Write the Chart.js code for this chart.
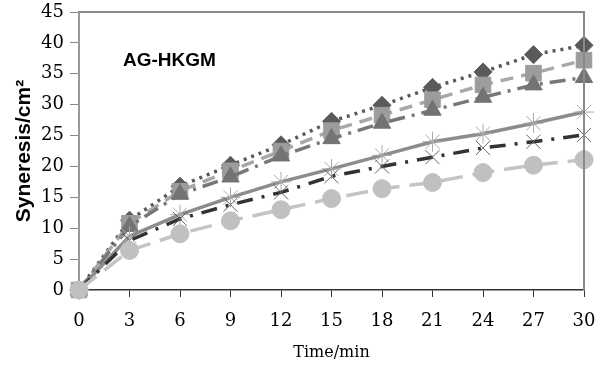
<!DOCTYPE html>
<html>
<head>
<meta charset="utf-8">
<script src="https://cdn.jsdelivr.net/npm/chart.js@4/dist/chart.umd.min.js"></script>
<style>
  html, body { margin: 0; padding: 0; background: #fff; }
  #wrap { width: 605px; height: 365px; }
</style>
</head>
<body>
<div id="wrap"><canvas id="chart"></canvas></div>
<script>
// data
const times = [0, 3, 6, 9, 12, 15, 18, 21, 24, 27, 30];
const diamondVals  = [0, 11.3, 16.8, 20.2, 23.5, 27.3, 29.9, 32.8, 35.3, 38.1, 39.6];
const squareVals   = [0, 10.8, 16.0, 19.3, 22.5, 25.8, 28.3, 30.8, 33.2, 35.1, 37.2];
const triangleVals = [0, 10.3, 15.5, 18.3, 21.7, 24.5, 27.0, 29.1, 31.2, 33.2, 34.4];
const starVals     = [0, 8.7, 12.2, 15.0, 17.5, 19.6, 21.8, 24.0, 25.3, 27.0, 28.8];
const crossVals    = [0, 8.0, 11.5, 13.8, 15.8, 18.4, 20.0, 21.5, 23.0, 24.0, 25.1];
const circleVals   = [0, 6.4, 9.1, 11.2, 13.0, 14.8, 16.4, 17.4, 19.0, 20.2, 21.1];
const yTicks = [0, 5, 10, 15, 20, 25, 30, 35, 40, 45];

const tickFont = { family: 'DejaVu Serif', size: 18 };

// top and right frame of the plot
const framePlugin = {
    id: 'frame',
    afterDraw(chart) {
        const { ctx, chartArea } = chart;
        ctx.save();
        ctx.strokeStyle = '#8a8a8a';
        ctx.lineWidth = 2;
        ctx.beginPath();
        ctx.moveTo(chartArea.left, chartArea.top);
        ctx.lineTo(chartArea.right, chartArea.top);
        ctx.lineTo(chartArea.right, chartArea.bottom);
        ctx.stroke();
        ctx.restore();
    }
};

// "AG-HKGM" label inside the plot
const labelPlugin = {
    id: 'sampleLabel',
    afterDraw(chart) {
        const { ctx, chartArea } = chart;
        ctx.save();
        ctx.fillStyle = '#000';
        ctx.font = 'bold 19px "Liberation Sans"';
        ctx.textBaseline = 'alphabetic';
        ctx.fillText('AG-HKGM', chartArea.left + 44, chartArea.top + 54);
        ctx.restore();
    }
};

function series(vals, opts, i) {
    return Object.assign({
        data: vals,
        borderWidth: 3.5,
        pointBorderWidth: 1,
        tension: 0,
        clip: false,
        order: 6 - i
    }, opts);
}

new Chart(document.getElementById('chart'), {
    type: 'line',
    data: {
        labels: times,
        datasets: [
            series(diamondVals, {
                borderColor: '#5a5a5a', borderDash: [3, 5],
                pointStyle: 'rectRot', pointRadius: 9,
                pointBackgroundColor: '#5a5a5a', pointBorderColor: '#5a5a5a'
            }, 0),
            series(squareVals, {
                borderColor: '#a8a8a8', borderDash: [13, 8],
                pointStyle: 'rect', pointRadius: 11,
                pointBackgroundColor: '#9c9c9c', pointBorderColor: '#9c9c9c'
            }, 1),
            series(triangleVals, {
                borderColor: '#777', borderDash: [16, 7, 3, 7],
                pointStyle: 'triangle', pointRadius: 10,
                pointBackgroundColor: '#737373', pointBorderColor: '#737373'
            }, 2),
            series(starVals, {
                borderColor: '#8c8c8c',
                pointStyle: 'star', pointRadius: 10,
                pointBackgroundColor: '#aaa', pointBorderColor: '#aaa'
            }, 3),
            series(crossVals, {
                borderColor: '#333', borderDash: [16, 9, 3, 9],
                pointStyle: 'crossRot', pointRadius: 10,
                pointBackgroundColor: '#666', pointBorderColor: '#666'
            }, 4),
            series(circleVals, {
                borderColor: '#c4c4c4', borderDash: [22, 10],
                pointStyle: 'circle', pointRadius: 9,
                pointBackgroundColor: '#c0c0c0', pointBorderColor: '#c0c0c0'
            }, 5)
        ]
    },
    options: {
        responsive: true,
        maintainAspectRatio: false,
        animation: false,
        events: [],
        layout: {
            padding: { left: 0, right: 21, top: 12, bottom: 0 }
        },
        plugins: {
            legend: { display: false },
            tooltip: { enabled: false }
        },
        scales: {
            x: {
                type: 'category',
                offset: false,
                grid: { drawOnChartArea: false, drawTicks: true, tickLength: 7, color: '#333' },
                border: { color: '#333', width: 1.5 },
                ticks: { color: '#000', font: tickFont, padding: 14, maxRotation: 0, autoSkip: false },
                title: {
                    display: true,
                    text: 'Time/min',
                    color: '#000',
                    font: { family: 'DejaVu Serif', size: 16 },
                    padding: { top: 0, bottom: 3 }
                },
                afterFit(scale) {
                    scale.height = 75;
                    scale.paddingLeft = 0;
                    scale.paddingRight = 0;
                }
            },
            y: {
                min: 0,
                max: 45,
                afterBuildTicks(scale) { scale.ticks = yTicks.map(v => ({ value: v })); },
                grid: { drawOnChartArea: false, drawTicks: true, tickLength: 9, color: '#888' },
                border: { color: '#999', width: 2 },
                ticks: { color: '#000', font: tickFont, padding: 6 },
                title: {
                    display: true,
                    text: 'Syneresis/cm²',
                    color: '#000',
                    font: { family: 'Liberation Sans', size: 21, weight: 'bold' },
                    padding: { top: 12, bottom: 0 }
                },
                afterFit(scale) {
                    scale.width = 79;
                    scale.paddingTop = 0;
                    scale.paddingBottom = 0;
                }
            }
        }
    },
    plugins: [framePlugin, labelPlugin]
});
</script>
</body>
</html>
